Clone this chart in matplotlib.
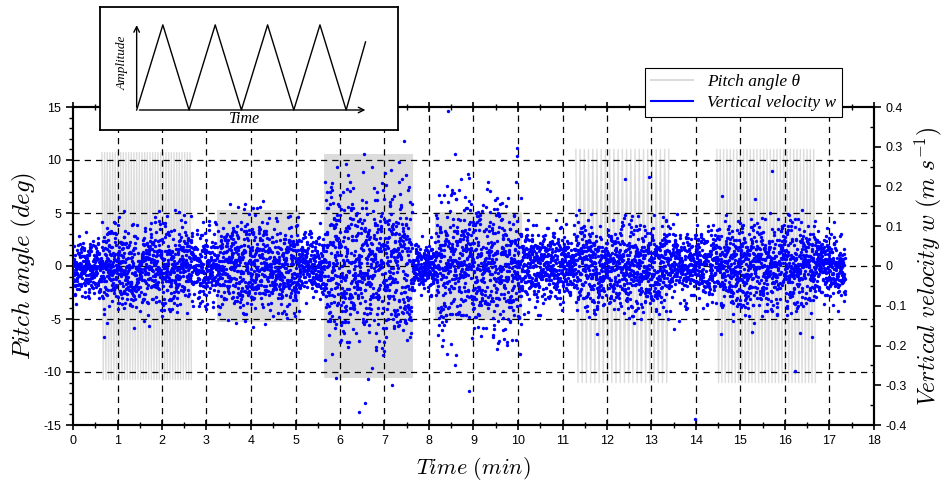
import numpy as np
import matplotlib
matplotlib.use("Agg")
import matplotlib.pyplot as plt
from matplotlib.lines import Line2D
from matplotlib.ticker import MultipleLocator

plt.rcParams['mathtext.fontset'] = 'cm'
plt.rcParams['font.family'] = ['Liberation Sans', 'DejaVu Sans']
plt.rcParams['axes.unicode_minus'] = False

# --- pitch angle: triangular sweeps (start, end, amplitude deg, period min) ---
seg_start = [0.65, 3.25, 5.66, 8.15, 11.30, 14.47]
seg_end = [2.66, 5.09, 7.63, 10.08, 13.40, 16.71]
seg_amp = [10.7, 5.2, 10.5, 5.0, 11.0, 11.0]
seg_period = [0.060, 0.012, 0.012, 0.012, 0.095, 0.075]

# --- vertical velocity: spread (std, m/s) of the cloud between breakpoints ---
w_break = [0.0, 0.65, 2.66, 3.25, 5.09, 5.66, 7.63, 8.15, 10.08, 11.30, 13.40, 14.47, 16.71, 17.35]
w_std = [0.038, 0.055, 0.045, 0.055, 0.040, 0.100, 0.028, 0.088, 0.045, 0.055, 0.045, 0.055, 0.040]
w_rate = 360  # samples per minute

# isolated points (min, m/s)
out_t = [8.42, 13.98, 9.98, 8.90, 6.62, 12.40, 15.70, 16.22]
out_w = [0.400, -0.385, 0.296, -0.315, -0.285, 0.220, 0.240, -0.265]

# inset sketch (periods, relative amplitude)
sk_t = [0, 0.5, 1.0, 1.5, 2.0, 2.5, 3.0, 3.5, 4.0, 4.37]
sk_a = [0, 1, 0, 1, 0, 1, 0, 1, 0, 0.80]

fig = plt.figure(figsize=(9.43, 4.88), dpi=100)
ax = fig.add_axes([73 / 943, 1 - 425 / 488, 801 / 943, 318 / 488])
ax2 = ax.twinx()
ax2.set_position(ax.get_position())

# pitch
for s, e, a, p in zip(seg_start, seg_end, seg_amp, seg_period):
    t = np.arange(s, e, p / 2)
    y = np.where(np.arange(len(t)) % 2 == 0, a, -a)
    ax.plot(t, y, color='#dcdcdc', lw=1.0, zorder=1)

# grid
for xv in range(1, 18):
    ax.axvline(xv, color='black', lw=0.9, ls=(0, (5, 4)), zorder=1.5)
for yv in [-10, -5, 0, 5, 10]:
    ax.axhline(yv, color='black', lw=0.9, ls=(0, (5, 4)), zorder=1.5)

# velocity cloud
rng = np.random.default_rng(7)
tt, ww = [], []
for i in range(len(w_std)):
    n = int((w_break[i + 1] - w_break[i]) * w_rate)
    tt.append(np.linspace(w_break[i], w_break[i + 1], n, endpoint=False))
    ww.append(rng.normal(0, w_std[i], n))
tt = np.concatenate(tt + [np.array(out_t)])
ww = np.clip(np.concatenate(ww + [np.array(out_w)]), -0.39, 0.39)
ax2.scatter(tt, ww, s=6, color='#0000ff', lw=0, zorder=3)

ax.set_xlim(0, 18)
ax.set_ylim(-15, 15)
ax2.set_ylim(-0.4, 0.4)
ax.set_zorder(ax2.get_zorder() - 1)
ax2.patch.set_visible(False)

ax.xaxis.set_major_locator(MultipleLocator(1))
ax.xaxis.set_minor_locator(MultipleLocator(0.5))
ax.yaxis.set_major_locator(MultipleLocator(5))
ax.yaxis.set_minor_locator(MultipleLocator(1))
ax2.yaxis.set_major_locator(MultipleLocator(0.1))
ax2.yaxis.set_minor_locator(MultipleLocator(0.05))
ax2.yaxis.set_major_formatter(plt.FuncFormatter(lambda v, p: '0' if abs(v) < 1e-9 else f'{v:.1f}'))

ax.tick_params(axis='x', which='major', direction='inout', length=7, width=1.2,
               top=True, labelsize=9)
ax.tick_params(axis='x', which='minor', direction='inout', length=4, width=1.0, top=True)
ax.tick_params(axis='y', which='major', direction='out', length=5, width=1.2, labelsize=9)
ax.tick_params(axis='y', which='minor', direction='out', length=3, width=1.0)
ax2.tick_params(axis='y', which='major', direction='out', length=5, width=1.2, labelsize=9)
ax2.tick_params(axis='y', which='minor', direction='in', length=3, width=1.0)
for a in (ax, ax2):
    for sp in a.spines.values():
        sp.set_linewidth(1.5)

ax.set_xlabel(r'$Time\ (min)$', fontsize=16, labelpad=6)
ax.set_ylabel(r'$Pitch\ angle\ (deg)$', fontsize=18, labelpad=3)
ax2.set_ylabel(r'$Vertical\ velocity\ w\ (m\ s^{-1})$', fontsize=17, labelpad=4)

# legend
handles = [Line2D([], [], color='#dcdcdc', lw=1.5), Line2D([], [], color='#0000ff', lw=1.5)]
leg = fig.legend(handles, [u'Pitch angle \u03b8', 'Vertical velocity w'],
                 loc='upper left', bbox_to_anchor=(645 / 943, 1 - 68 / 488),
                 frameon=True, fancybox=False, edgecolor='black', framealpha=1,
                 borderaxespad=0, handlelength=2.4, borderpad=0.35, labelspacing=0.25,
                 prop={'family': 'Liberation Serif', 'style': 'italic', 'size': 12.5})
leg.get_frame().set_linewidth(0.8)

# inset sketch
ins = fig.add_axes([100 / 943, 1 - 130 / 488, 298 / 943, 123 / 488])
ins.set_xlim(-0.70, 4.99)
ins.set_ylim(-0.235, 1.21)
ins.set_xticks([])
ins.set_yticks([])
for sp in ins.spines.values():
    sp.set_linewidth(1.3)
ins.plot(sk_t, sk_a, color='black', lw=1.0)
ins.annotate('', xy=(0, 1.03), xytext=(0, 0),
             arrowprops=dict(arrowstyle='->', lw=1.0, color='black'))
ins.annotate('', xy=(4.42, 0), xytext=(0, 0),
             arrowprops=dict(arrowstyle='->', lw=1.0, color='black'))
ins.text(-0.27, 0.55, 'Amplitude', rotation=90, ha='center', va='center',
         family='Liberation Serif', style='italic', fontsize=9.5)
ins.text(2.05, -0.11, 'Time', ha='center', va='center',
         family='Liberation Serif', style='italic', fontsize=11.5)

fig.savefig('out.png', dpi=100)
